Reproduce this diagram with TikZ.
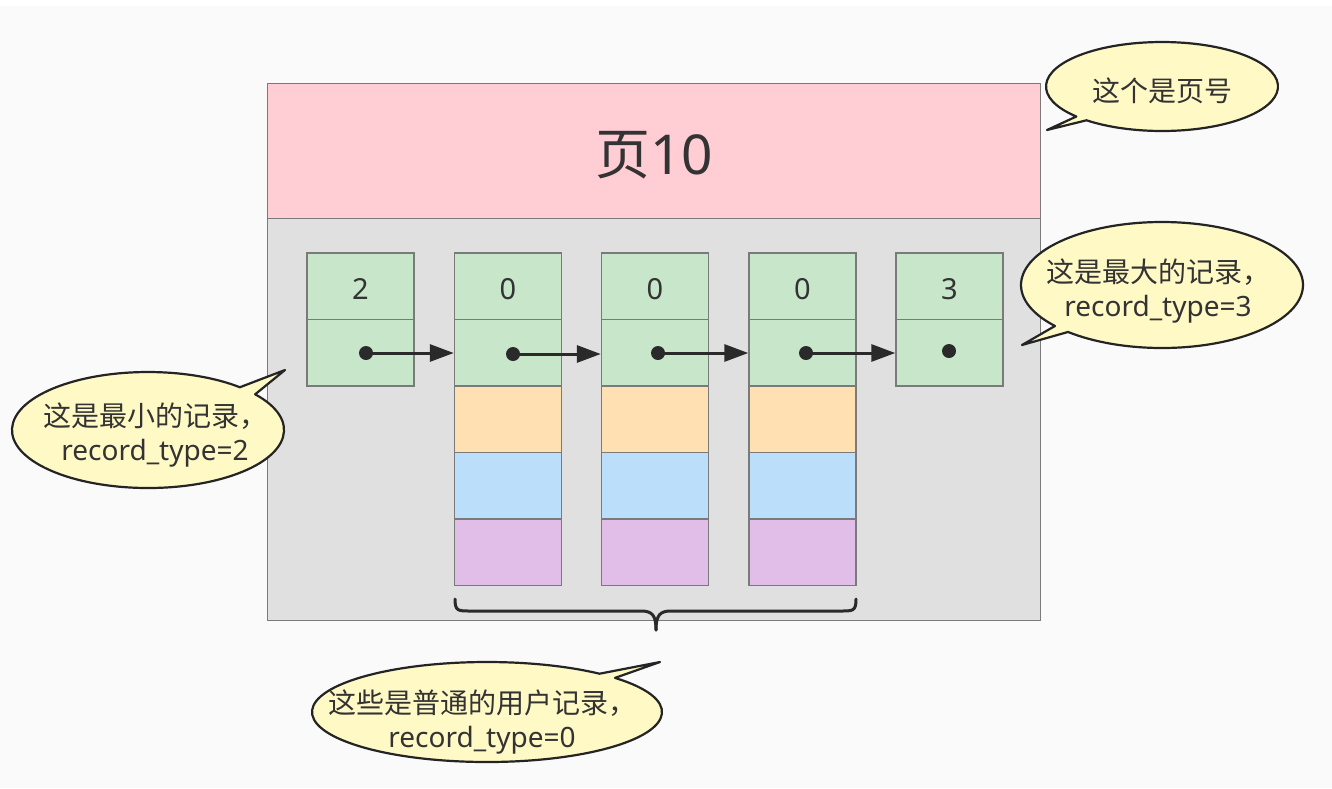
\documentclass[tikz,border=0pt]{standalone}
\usepackage{fontspec}
\setmainfont{Noto Sans}
\newfontfamily\cjk{Noto Sans CJK SC}
\usetikzlibrary{arrows.meta}
\definecolor{bg}{HTML}{FAFAFA}
\definecolor{txt}{HTML}{333333}
\definecolor{boxline}{HTML}{7A7A7A}
\definecolor{pinkhead}{HTML}{FFCDD3}
\definecolor{pagegray}{HTML}{E0E0E0}
\definecolor{cgreen}{HTML}{C8E6C9}
\definecolor{corange}{HTML}{FFE0B2}
\definecolor{cblue}{HTML}{BBDEFB}
\definecolor{cpurple}{HTML}{E1BEE7}
\definecolor{callfill}{HTML}{FFF9C6}
\definecolor{callline}{HTML}{242424}
\definecolor{ink}{HTML}{2A2A2A}
\tikzset{
  cell/.style={draw=boxline, line width=1.4pt, minimum width=107pt, minimum height=66.5pt, inner sep=0pt, text=txt, font=\fontsize{29}{30}\selectfont},
  ptr/.style={draw=ink, line width=3pt, -{Triangle[length=24pt,width=17pt]}},
  dotmark/.style={circle, fill=ink, minimum size=14pt, inner sep=0pt},
  bracestyle/.style={draw=ink, line width=3pt, line cap=round},
  callout/.style={fill=callfill, draw=callline, line width=2.2pt, line join=round},
  calltext/.style={align=center, text=txt, font=\fontsize{28}{34}\selectfont, inner sep=0pt}
}
\begin{document}
\begin{tikzpicture}[x=1pt,y=-1pt]
\useasboundingbox (0,0) rectangle (1332,788);
\fill[white] (0,0) rectangle (1332,788);
\fill[bg] (0,6) rectangle (1332,788);

% page
\node[draw=boxline, line width=1.3pt, fill=pagegray, minimum width=773pt, minimum height=537pt, inner sep=0pt, anchor=north west] (page) at (267,83) {};
\node[draw=boxline, line width=1.3pt, fill=pinkhead, minimum width=773pt, minimum height=135pt, inner sep=0pt, anchor=north west] (head) at (267,83) {};
\node[text=txt, font=\fontsize{55}{60}\selectfont] (headlabel) at ([yshift=-4pt]head.center) {{\cjk 页}10};

% record columns
\foreach \i/\x/\v in {1/360.5/2, 2/508/0, 3/655/0, 4/802.5/0, 5/949.5/3} {
  \node[cell, fill=cgreen] (k\i) at (\x,286.25) {};
  \node[text=txt, font=\fontsize{29}{30}\selectfont] (v\i) at ([yshift=-3pt]k\i.center) {\v};
  \node[cell, fill=cgreen] (p\i) at (\x,352.75) {};
}
\foreach \i/\x in {2/508, 3/655, 4/802.5} {
  \node[cell, fill=corange] (o\i) at (\x,419.25) {};
  \node[cell, fill=cblue] (b\i) at (\x,485.75) {};
  \node[cell, fill=cpurple] (u\i) at (\x,552.25) {};
}

% dots
\node[dotmark] (d1) at (366,353) {};
\node[dotmark] (d2) at (513,354) {};
\node[dotmark] (d3) at (658,353) {};
\node[dotmark] (d4) at (806,353) {};
\node[dotmark] (d5) at (949,351) {};

% pointers
\draw[ptr] (d1.center) -- (d1.center -| p2.west);
\draw[ptr] (d2.center) -- (d2.center -| p3.west);
\draw[ptr] (d3.center) -- (d3.center -| p4.west);
\draw[ptr] (d4.center) -- (d4.center -| p5.west);

% brace
\draw[bracestyle] (455,599) .. controls (455,611) and (458,611) .. (470,611) -- (641,611) .. controls (652,611) and (656,615) .. (656,630);
\draw[bracestyle] (856,599) .. controls (856,611) and (853,611) .. (841,611) -- (671,611) .. controls (660,611) and (656,615) .. (656,630);

% callouts
\draw[callout] (1162,86.5) ++(137.6:116 and 44.5) arc[start angle=137.6, end angle=490.6, x radius=116, y radius=44.5] -- (1047,130) -- cycle;
\draw[callout] (1162,285) ++(139.4:141 and 63) arc[start angle=139.4, end angle=491.8, x radius=141, y radius=63] -- (1022,345) -- cycle;
\draw[callout] (148,430) ++(322:136 and 58) arc[start angle=322, end angle=672.5, x radius=136, y radius=58] -- (285,370) -- cycle;
\draw[callout] (487,712) ++(317:175 and 50) arc[start angle=317, end angle=670, x radius=175, y radius=50] -- (660,662) -- cycle;

\node[calltext] (t1) at (1162,91) {{\cjk 这个是页号}};
\node[calltext] (t2) at (1158,291) {{\cjk 这是最大的记录，}\\ record\_type=3};
\node[calltext] (t3) at (155,435) {{\cjk 这是最小的记录，}\\ record\_type=2};
\node[calltext] (t4) at (482,722) {{\cjk 这些是普通的用户记录，}\\ record\_type=0};
\end{tikzpicture}
\end{document}
